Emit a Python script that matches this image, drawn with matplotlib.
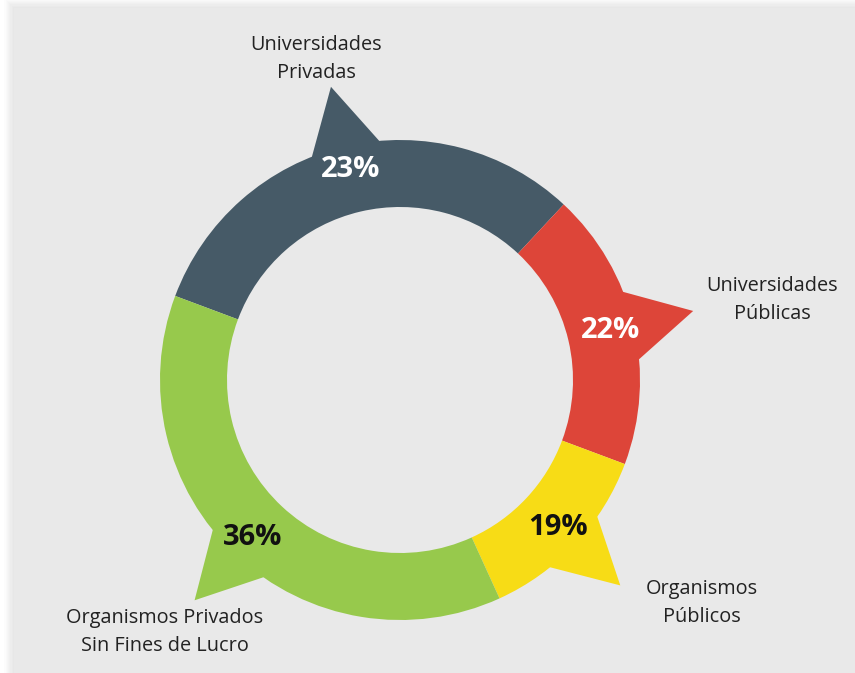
import numpy as np
import matplotlib
matplotlib.use("Agg")
import matplotlib.pyplot as plt
from matplotlib.patches import Polygon, Rectangle

# Data
categories = ["Universidades\nPrivadas", "Universidades\nPúblicas",
              "Organismos\nPúblicos", "Organismos Privados\nSin Fines de Lucro"]
pct_labels = ["23%", "22%", "19%", "36%"]
# arc sizes as drawn in the original (the ring is not drawn to scale)
arc_share = [31.25, 18.75, 12.5, 37.5]
colors = ["#465a67", "#dd4539", "#f7dc16", "#97c94c"]
pct_colors = ["white", "white", "#111111", "#111111"]

W, H = 855, 673
cx, cy, R = 400, 380, 240          # ring centre and outer radius in px
ring_w = 67 / R
fig = plt.figure(figsize=(W / 100, H / 100), dpi=100)
fig.patch.set_facecolor("white")
ax = fig.add_axes([0, 0, 1, 1])

wedges, _ = ax.pie(arc_share, colors=colors, startangle=159.5, counterclock=False,
                   radius=1, wedgeprops=dict(width=ring_w, linewidth=0))
for w in wedges:
    w.set_zorder(3)

# pie resets the limits, so set them afterwards
ax.set_xlim(-cx / R, (W - cx) / R)
ax.set_ylim(-(H - cy) / R, cy / R)
ax.set_aspect("equal")
ax.axis("off")

# grey panel with soft shadow on the left/top
x0, y0 = (14 - cx) / R, -(H - cy) / R
top = (cy - 8) / R
for i in range(8):
    d = (8 - i) * 1.2 / R
    ax.add_patch(Rectangle((x0 - d, y0), 5, top - y0 + d, color="black",
                           alpha=0.012, lw=0, zorder=0))
ax.add_patch(Rectangle((x0, y0), 5, top - y0, color="#e9e9e9", lw=0, zorder=1))

tip_r = 1.255
half = 8.5
lab_pos = [(316, 59), (772, 300), (702, 603), (165, 632)]
for w, pl, pc, cat, lp in zip(wedges, pct_labels, pct_colors, categories, lab_pos):
    mid = (w.theta1 + w.theta2) / 2
    a = np.deg2rad([mid - half, mid, mid + half])
    pts = [(0.995 * np.cos(a[0]), 0.995 * np.sin(a[0])),
           (tip_r * np.cos(a[1]), tip_r * np.sin(a[1])),
           (0.995 * np.cos(a[2]), 0.995 * np.sin(a[2]))]
    ax.add_patch(Polygon(pts, closed=True, color=w.get_facecolor(), lw=0, zorder=3))
    rm = 0.9
    ax.text(rm * np.cos(np.deg2rad(mid)), rm * np.sin(np.deg2rad(mid)), pl,
            ha="center", va="center", color=pc, fontsize=21, fontweight="bold",
            family="Open Sans", zorder=5)
    ax.text((lp[0] - cx) / R, (cy - lp[1]) / R, cat, ha="center", va="center",
            fontsize=14.3, color="#222222", family="Open Sans", linespacing=1.55, zorder=5)

fig.savefig("out.png", dpi=100, facecolor=fig.get_facecolor())
